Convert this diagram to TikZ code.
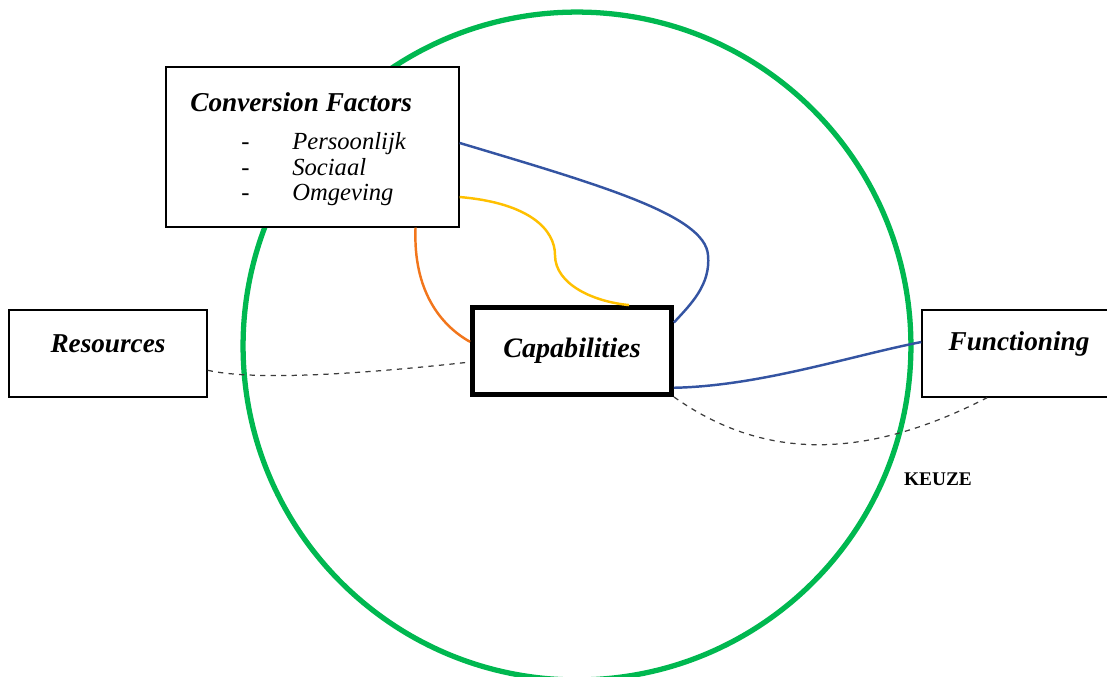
\documentclass[tikz,border=0pt]{standalone}
\usepackage{fontspec}
\setmainfont{Liberation Serif}
\usetikzlibrary{calc}
\definecolor{cirkelgroen}{RGB}{0,184,80}
\definecolor{lijnblauw}{RGB}{52,84,162}
\definecolor{lijnoranje}{RGB}{242,118,28}
\definecolor{lijngeel}{RGB}{255,192,0}
\definecolor{stippelgrijs}{RGB}{60,60,60}
\tikzset{
  blok/.style={draw, line width=0.8pt, fill=white, minimum width=3.96cm, minimum height=1.74cm},
  kern/.style={draw, line width=2.8pt, fill=white, minimum width=3.98cm, minimum height=1.74cm},
  titel/.style={font=\fontsize{15.5}{18}\selectfont\bfseries\itshape},
  lijst/.style={font=\fontsize{14}{16}\selectfont\itshape, anchor=base west, inner sep=0pt},
  keuze/.style={dashed, stippelgrijs, line width=0.7pt}
}
\begin{document}
\begin{tikzpicture}[x=0.02cm,y=-0.02cm]
  \useasboundingbox (0,0) rectangle (1107,677);
  %CIRKEL
  \draw[cirkelgroen, line width=3pt] (577,346) circle[radius=6.68cm];
  %BLOKKEN
  \node[blok, minimum width=5.86cm, minimum height=3.2cm] (conv) at (312.5,147) {};
  \node[blok] (res) at (108,353.5) {};
  \node[blok] (func) at (1021,353.5) {};
  \node[kern] (cap) at (572,351) {};
  %TEKSTEN
  \node[titel, anchor=base west, inner sep=0pt] (convtitel) at (190,111) {Conversion Factors};
  \foreach \factor [count=\i] in {Persoonlijk,Sociaal,Omgeving}{
    \node[lijst] (streep\i) at (241,124+25.5*\i) {-};
    \node[lijst] (factor\i) at (292,124+25.5*\i) {\factor};
  }
  \node[titel] (restekst) at (res.center) [yshift=0.2cm] {Resources};
  \node[titel, font=\fontsize{16}{18}\selectfont\bfseries\itshape] (captekst) at (cap.center) {Capabilities};
  \node[titel] (functekst) at (func.center) [yshift=0.2cm, xshift=-0.04cm] {Functioning};
  \node[font=\fontsize{11}{13}\selectfont\bfseries] (keuzetekst) at (938,479) {KEUZE};
  %VERBINDINGEN
  \draw[lijnoranje, line width=1.4pt] ($(conv.south west)!0.85!(conv.south east)$)
    .. controls (413,290) and (440,325) .. ($(cap.north west)!0.4!(cap.south west)$);
  \draw[lijngeel, line width=1.4pt] ($(conv.north east)!0.81!(conv.south east)$)
    .. controls (530,203) and (555,230) .. (555,255)
    .. controls (555,285) and (595,302) .. ($(cap.north west)!0.78!(cap.north east)$);
  \draw[lijnblauw, line width=1.4pt] ($(conv.north east)!0.475!(conv.south east)$)
    .. controls (600,185) and (705,215) .. (708,255)
    .. controls (711,285) and (690,305) .. ($(cap.north east)!0.19!(cap.south east)$);
  \draw[lijnblauw, line width=1.4pt] ($(cap.north east)!0.9!(cap.south east)$)
    .. controls (760,386) and (850,356) .. ($(func.north west)!0.37!(func.south west)$);
  \draw[keuze] ($(res.north east)!0.69!(res.south east)$)
    .. controls (260,382) and (380,372) .. ($(cap.north west)!0.62!(cap.south west)$);
  \draw[keuze] (cap.south east)
    .. controls (760,458) and (860,463) .. ($(func.south west)!0.33!(func.south east)$);
\end{tikzpicture}
\end{document}
